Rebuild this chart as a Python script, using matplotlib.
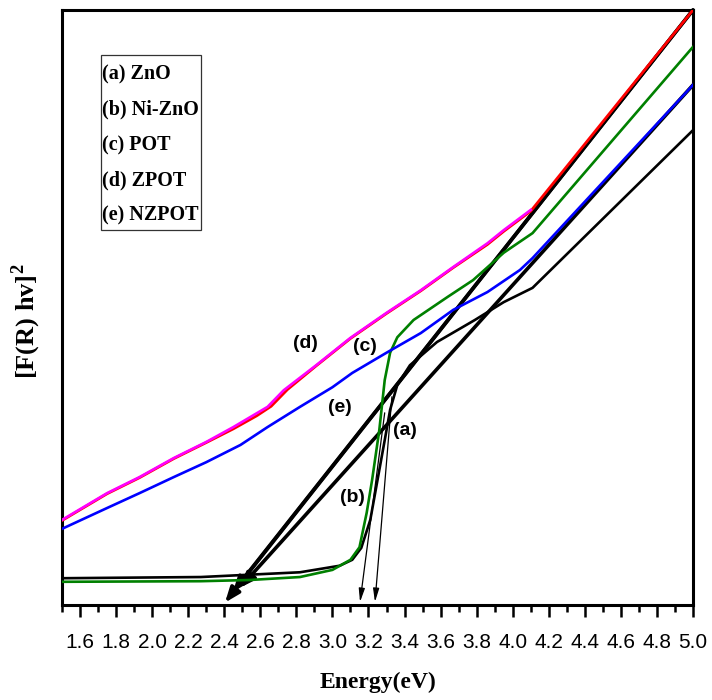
import matplotlib
matplotlib.use("Agg")
import matplotlib.pyplot as plt
from matplotlib.patches import Rectangle
from matplotlib.ticker import MultipleLocator, NullLocator

plt.rcParams["mathtext.fontset"] = "custom"
plt.rcParams["mathtext.bf"] = "Liberation Serif:bold"
plt.rcParams["mathtext.rm"] = "Liberation Serif"

# ---------------- data (energy eV, [F(R)hv]^2 arbitrary units) ----------------
x_d = [1.50, 1.75, 1.93, 2.12, 2.30, 2.45, 2.64, 2.73, 2.91, 3.10, 3.30, 3.49, 3.67, 3.86, 3.95, 4.10]
y_d = [14.3, 18.8, 21.5, 24.7, 27.4, 29.9, 33.3, 36.1, 40.3, 44.9, 49.1, 52.9, 56.8, 60.8, 63.0, 66.4]

x_c = [1.50, 1.75, 1.93, 2.12, 2.30, 2.45, 2.58, 2.66, 2.75, 2.91, 3.10, 3.30, 3.49, 3.67, 3.86, 3.95, 4.10, 5.00]
y_c = [14.2, 18.7, 21.4, 24.6, 27.3, 29.6, 31.8, 33.4, 36.2, 40.2, 44.8, 49.0, 52.8, 56.7, 60.6, 62.8, 66.2, 100.0]

x_e = [1.50, 1.75, 1.93, 2.12, 2.30, 2.49, 2.64, 2.82, 3.00, 3.11, 3.30, 3.49, 3.67, 3.86, 4.04, 4.11, 5.00]
y_e = [12.8, 16.3, 18.8, 21.5, 24.0, 26.9, 29.9, 33.3, 36.6, 39.0, 42.4, 45.7, 49.6, 52.6, 56.3, 58.3, 87.4]

x_b = [1.50, 2.27, 2.54, 2.82, 3.00, 3.10, 3.15, 3.19, 3.22, 3.26, 3.29, 3.32, 3.36, 3.45, 3.64, 3.78, 3.95, 4.11, 5.00]
y_b = [3.9, 4.0, 4.2, 4.7, 5.9, 7.6, 9.7, 15.5, 21.0, 29.4, 37.8, 42.4, 45.0, 47.9, 51.8, 54.6, 59.2, 62.5, 93.8]

x_a = [1.50, 2.27, 2.82, 3.04, 3.11, 3.16, 3.21, 3.25, 3.29, 3.32, 3.36, 3.43, 3.58, 3.79, 3.95, 4.11, 5.00]
y_a = [4.5, 4.7, 5.5, 6.6, 7.6, 9.6, 14.3, 21.0, 27.7, 32.8, 37.0, 40.3, 44.2, 47.9, 50.9, 53.3, 79.8]

# tangent (extrapolation) lines: start -> arrow tip
tan_start = [(5.00, 100.0), (5.00, 100.0), (5.00, 87.4)]
tan_end = [(2.404, 0.4), (2.448, 2.2), (2.487, 2.9)]
# thin arrows from the steep absorption edge
thin_start = [(3.29, 32.3), (3.33, 35.0)]
thin_end = [(3.153, 0.5), (3.236, 0.5)]

legend_items = ["(a) ZnO", "(b) Ni-ZnO", "(c) POT", "(d) ZPOT", "(e) NZPOT"]
curve_labels = ["(d)", "(c)", "(e)", "(a)", "(b)"]
label_pos = [(2.85, 44.0), (3.18, 43.5), (3.04, 33.2), (3.40, 29.4), (3.11, 18.0)]
tick_vals = [1.6, 1.8, 2.0, 2.2, 2.4, 2.6, 2.8, 3.0, 3.2, 3.4, 3.6, 3.8, 4.0, 4.2, 4.4, 4.6, 4.8, 5.0]

# ---------------- figure ----------------
fig = plt.figure(figsize=(7.12, 7.00), dpi=100)
ax = fig.add_axes([62/712, 95/700, 631/712, 595/700])
ax.set_xlim(1.5, 5.0)
ax.set_ylim(0, 100)

# tangent lines (under curves)
for (xs, ys), (xe, ye) in zip(tan_start, tan_end):
    ax.annotate("", xy=(xe, ye), xytext=(xs, ys),
                arrowprops=dict(arrowstyle="-|>,head_length=0.9,head_width=0.35",
                                color="black", lw=2.6, shrinkA=0, shrinkB=0),
                zorder=2)
for (xs, ys), (xe, ye) in zip(thin_start, thin_end):
    ax.annotate("", xy=(xe, ye), xytext=(xs, ys),
                arrowprops=dict(arrowstyle="-|>,head_length=0.8,head_width=0.18",
                                color="black", lw=0.9, shrinkA=0, shrinkB=0),
                zorder=2)

ax.plot(x_a, y_a, color="black", lw=1.9, zorder=3)
ax.plot(x_b, y_b, color="#008000", lw=1.9, zorder=3)
ax.plot(x_c, y_c, color="#ff0000", lw=2.0, zorder=3)
ax.plot(x_d, y_d, color="#ff00ff", lw=1.9, zorder=4)
ax.plot(x_e, y_e, color="#0000ff", lw=1.9, zorder=4)

for t, (lx, ly) in zip(curve_labels, label_pos):
    ax.text(lx, ly, t, fontsize=14, fontweight="bold", family="Liberation Sans",
            ha="center", va="center", zorder=6)

# legend box drawn as text
ax.add_patch(Rectangle((39/631, 375/595), 100/631, 175/595, transform=ax.transAxes,
                       fill=False, edgecolor="#333333", lw=0.9, zorder=5))
leg_y = [531, 496, 460, 425, 390]
for t, yy in zip(legend_items, leg_y):
    ax.text(40/631, yy/595, t, transform=ax.transAxes, fontsize=14.5,
            fontweight="bold", family="Liberation Serif", ha="left", va="center", zorder=6)

# axes styling
for s in ax.spines.values():
    s.set_linewidth(2.2)
ax.set_xticks(tick_vals)
ax.set_xticklabels([f"{v:.1f}" for v in tick_vals])
ax.xaxis.set_minor_locator(MultipleLocator(0.1))
ax.yaxis.set_major_locator(NullLocator())
ax.yaxis.set_minor_locator(NullLocator())
ax.tick_params(axis="x", which="major", direction="out", length=8.5, width=1.8, pad=12,
               labelsize=15)
ax.tick_params(axis="x", which="minor", direction="out", length=5, width=1.8)
for lab in ax.get_xticklabels():
    lab.set_family("Liberation Sans")

ax.set_xlabel("Energy(eV)", fontsize=17, fontweight="bold", family="Liberation Serif",
              labelpad=14)
ax.set_ylabel(r"[F(R) hv]$^{\mathbf{2}}$", fontsize=19, fontweight="bold",
              family="Liberation Serif")
ax.yaxis.set_label_coords(-0.03, 0.476)

fig.savefig("out.png", dpi=100)
